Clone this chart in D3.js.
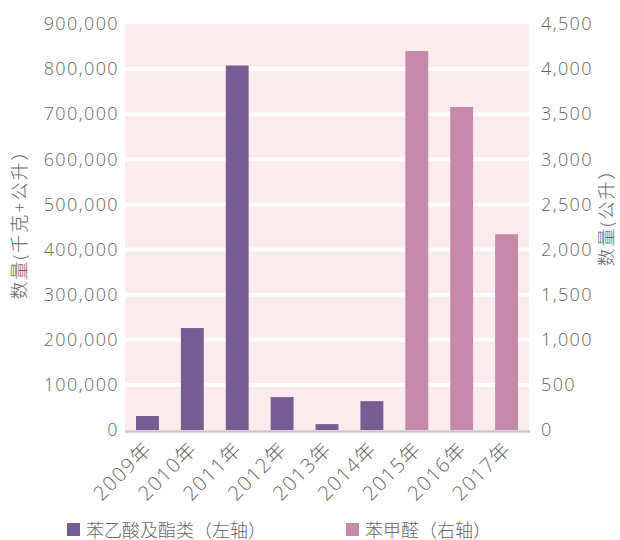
<!DOCTYPE html>
<html><head><meta charset="utf-8">
<script src="https://cdn.jsdelivr.net/npm/d3@7"></script>
<style>
body{margin:0;background:#fff}
text{font-family:"Open Sans","Noto Sans CJK SC",sans-serif;fill:#666;font-weight:300;}
</style>
</head><body><svg id="c" width="620" height="540"></svg>
<script>
const years = ["2009年","2010年","2011年","2012年","2013年","2014年","2015年","2016年","2017年"];
const leftSeriesName = "苯乙酸及酯类（左轴）";
const leftYears = ["2009年","2010年","2011年","2012年","2013年","2014年"];
const leftValues = [31000, 226000, 808000, 73000, 13000, 64000];
const rightSeriesName = "苯甲醛（右轴）";
const rightYears = ["2015年","2016年","2017年"];
const rightValues = [4200, 3580, 2170];
const leftTicks = [0,100000,200000,300000,400000,500000,600000,700000,800000,900000];
const rightTicks = [0,500,1000,1500,2000,2500,3000,3500,4000,4500];
const leftTitle = "数量(千克+公升）";
const rightTitle = "数量(公升）";
const colors = {left:"#7A5C95", right:"#C489AB"};

const svg = d3.select("#c");
const L=125, R=529, T=24, B=430;
const x = d3.scaleBand().domain(years).range([L,R]).paddingInner(0.49).paddingOuter(0.245);
const yL = d3.scaleLinear().domain([0,900000]).range([B,T]);
const yR = d3.scaleLinear().domain([0,4500]).range([B,T]);

svg.append("rect").attr("x",L).attr("y",T).attr("width",R-L).attr("height",B-T).attr("fill","#FBEBED");

// gridlines
svg.append("g").selectAll("line").data(leftTicks.filter(d=>d>0 && d<900000)).join("line")
  .attr("x1",L).attr("x2",R).attr("y1",d=>yL(d)).attr("y2",d=>yL(d))
  .attr("stroke","#fff").attr("stroke-width",4);

const fmt = d3.format(",");
// left axis
const gl = svg.append("g").attr("transform",`translate(${L},0)`)
  .call(d3.axisLeft(yL).tickValues(leftTicks).tickFormat(fmt).tickSize(0).tickPadding(6));
gl.select(".domain").remove();
gl.selectAll("text").style("font-size","18px").style("letter-spacing","1.4px").attr("fill","#666");

// right axis
const gr = svg.append("g").attr("transform",`translate(${R},0)`)
  .call(d3.axisRight(yR).tickValues(rightTicks).tickFormat(fmt).tickSize(0).tickPadding(12));
gr.select(".domain").remove();
gr.selectAll("text").style("font-size","18px").style("letter-spacing","1.4px").attr("fill","#666");

// bars
svg.append("g").selectAll("rect").data(leftYears.map((y,i)=>({y,v:leftValues[i]}))).join("rect")
  .attr("x",d=>x(d.y)).attr("width",x.bandwidth())
  .attr("y",d=>yL(d.v)).attr("height",d=>B-yL(d.v)).attr("fill",colors.left);
svg.append("g").selectAll("rect").data(rightYears.map((y,i)=>({y,v:rightValues[i]}))).join("rect")
  .attr("x",d=>x(d.y)).attr("width",x.bandwidth())
  .attr("y",d=>yR(d.v)).attr("height",d=>B-yR(d.v)).attr("fill",colors.right);

// baseline
svg.append("line").attr("x1",L).attr("x2",R+1).attr("y1",B+1.5).attr("y2",B+1.5)
  .attr("stroke","#C8C8C8").attr("stroke-width",2.5);

// x labels
const gx = svg.append("g").attr("transform",`translate(0,${B})`)
  .call(d3.axisBottom(x).tickSize(0).tickPadding(0));
gx.select(".domain").remove();
gx.selectAll("text").style("font-size","20px").style("letter-spacing","1.5px").attr("fill","#666")
  .attr("text-anchor","end").attr("dy",null).attr("y",0)
  .attr("transform","translate(6,20) rotate(-45)");

// axis titles
svg.append("text").attr("transform","translate(19,220) rotate(-90)")
  .attr("text-anchor","middle").attr("dominant-baseline","central")
  .style("font-size","18px").style("letter-spacing","2px").text(leftTitle);
svg.append("text").attr("transform","translate(606,213) rotate(-90)")
  .attr("text-anchor","middle").attr("dominant-baseline","central")
  .style("font-size","18px").style("letter-spacing","2px").text(rightTitle);

// legend
const legend = [{name:leftSeriesName,c:colors.left,x:67},{name:rightSeriesName,c:colors.right,x:346}];
const lg = svg.append("g").selectAll("g").data(legend).join("g")
  .attr("transform",d=>`translate(${d.x},523)`);
lg.append("rect").attr("width",13).attr("height",13).attr("fill",d=>d.c);
lg.append("text").attr("x",19).attr("y",6.5).attr("dominant-baseline","central")
  .style("font-size","18px").text(d=>d.name);
</script>
</body></html>
